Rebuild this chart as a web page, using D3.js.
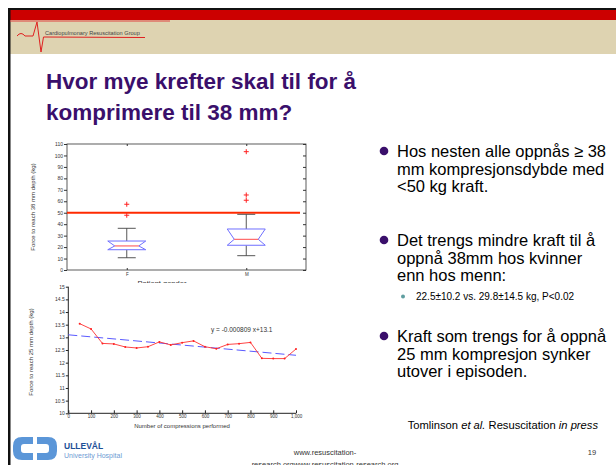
<!DOCTYPE html>
<html>
<head>
<meta charset="utf-8">
<script src="https://cdn.jsdelivr.net/npm/d3@7"></script>
<style>
  body { margin: 0; background: #fff; }
  svg { display: block; font-family: Arial, "Liberation Sans", sans-serif; }
</style>
</head>
<body>
<div id="slide"></div>
<script>
// box plot data (force to reach 38 mm, kg)
const genders = ["F", "M"];
const boxQ1 = [17.7, 21.6];
const boxMedian = [21, 26.8];
const boxQ3 = [25.3, 35.8];
const whiskerLow = [10.7, 12.5];
const whiskerHigh = [36.4, 48.6];
const outliers = [[57.4, 47.8], [103.3, 65.5, 60.9]];
const threshold = 50;
const boxTicks = [0, 10, 20, 30, 40, 50, 60, 70, 80, 90, 100, 110];

// line chart data (force to reach 25 mm, kg)
const compressions = [50, 100, 150, 200, 250, 300, 350, 400, 450, 500,
  550, 600, 650, 700, 750, 800, 850, 900, 950, 1000];
const force25 = [13.54, 13.33, 12.76, 12.74, 12.62, 12.58, 12.63, 12.82, 12.70, 12.79,
  12.86, 12.63, 12.55, 12.72, 12.75, 12.80, 12.17, 12.16, 12.16, 12.54];
const fitSlope = -0.000809;
const fitIntercept = 13.1;
const lineYTicks = [10, 10.5, 11, 11.5, 12, 12.5, 13, 13.5, 14, 14.5, 15];
const lineXTicks = [0, 100, 200, 300, 400, 500, 600, 700, 800, 900, 1000];

const W = 616, H = 465;
const purple = "#3a0f6b";

const svg = d3.select("#slide").append("svg")
  .attr("width", W).attr("height", H);

// ---- slide frame / header ----
svg.append("rect").attr("x", 8).attr("y", 8).attr("width", W - 8).attr("height", 3).attr("fill", "#111");
svg.append("rect").attr("x", 8).attr("y", 10).attr("width", W - 8).attr("height", 10).attr("fill", "#cc0000");
svg.append("rect").attr("x", 10).attr("y", 20).attr("width", W - 10).attr("height", 34).attr("fill", "#ded3b1");
svg.append("rect").attr("x", 8).attr("y", 8).attr("width", 2.5).attr("height", H - 8).attr("fill", "#111");
svg.append("line").attr("x1", 10).attr("x2", 170).attr("y1", 21).attr("y2", 21)
  .attr("stroke", "#e04040").attr("stroke-width", 1);
svg.append("path")
  .attr("d", "M17,36 Q21,31 25,36 L33,36 L37,22 L41,52 L43.5,37 L145,37.5")
  .attr("fill", "none").attr("stroke", "#e02020").attr("stroke-width", 1);
svg.append("text").attr("x", 45).attr("y", 34.5)
  .attr("font-size", 5.6).attr("fill", "#444")
  .text("Cardiopulmonary Resuscitation Group");

// title
const title = svg.append("text").attr("font-weight", "bold").attr("font-size", 22.5).attr("fill", purple);
title.append("tspan").attr("x", 46).attr("y", 89).text("Hvor mye krefter skal til for å");
title.append("tspan").attr("x", 46).attr("y", 120).text("komprimere til 38 mm?");

// ---- box plot ----
const bp = { left: 67, right: 306, top: 144, bottom: 270 };
const xBox = d3.scalePoint().domain(genders).range([bp.left, bp.right]).padding(0.5);
const yBox = d3.scaleLinear().domain([0, 110]).range([bp.bottom, bp.top]);

const gBox = svg.append("g");
gBox.append("rect")
  .attr("x", bp.left).attr("y", bp.top)
  .attr("width", bp.right - bp.left).attr("height", bp.bottom - bp.top)
  .attr("fill", "#fff").attr("stroke", "#333").attr("stroke-width", 0.8);

const axL = gBox.append("g").attr("transform", `translate(${bp.left},0)`)
  .call(d3.axisLeft(yBox).tickValues(boxTicks).tickSize(3).tickPadding(1));
axL.select(".domain").remove();
axL.selectAll("line").attr("stroke", "#333");
axL.selectAll("text").attr("font-size", 5).attr("fill", "#333");

const axR = gBox.append("g").attr("transform", `translate(${bp.right},0)`)
  .call(d3.axisLeft(yBox).tickValues(boxTicks).tickSize(3).tickFormat(""));
axR.select(".domain").remove();
axR.selectAll("line").attr("stroke", "#333");

const axB = gBox.append("g").attr("transform", `translate(0,${bp.bottom})`)
  .call(d3.axisTop(xBox).tickSize(2).tickFormat(""));
axB.select(".domain").remove();
axB.selectAll("line").attr("stroke", "#333");
gBox.append("g").attr("transform", `translate(0,${bp.bottom})`)
  .call(d3.axisBottom(xBox).tickSize(0).tickPadding(3))
  .call(g => g.select(".domain").remove())
  .selectAll("text").attr("font-size", 4.5).attr("fill", "#333");
const axT = gBox.append("g").attr("transform", `translate(0,${bp.top})`)
  .call(d3.axisBottom(xBox).tickSize(2).tickFormat(""));
axT.select(".domain").remove();
axT.selectAll("line").attr("stroke", "#333");

svg.append("text")
  .attr("transform", `translate(35,${(bp.top + bp.bottom) / 2}) rotate(-90)`)
  .attr("text-anchor", "middle").attr("font-size", 6).attr("fill", "#333")
  .text("Force to reach 38 mm depth (kg)");
svg.append("text").attr("x", 162).attr("y", 285.5)
  .attr("text-anchor", "middle").attr("font-size", 7.5).attr("fill", "#333")
  .text("Patient gender");

// threshold line
gBox.append("line")
  .attr("x1", bp.left).attr("x2", 300)
  .attr("y1", yBox(threshold)).attr("y2", yBox(threshold))
  .attr("stroke", "#ff2a00").attr("stroke-width", 1.8);

const boxW = 38, capW = 18, notchIn = 7;
genders.forEach((g, i) => {
  const cx = xBox(g);
  const x0 = cx - boxW / 2, x1 = cx + boxW / 2;
  // whiskers
  gBox.append("line").attr("x1", cx).attr("x2", cx)
    .attr("y1", yBox(whiskerHigh[i])).attr("y2", yBox(boxQ3[i]))
    .attr("stroke", "#444").attr("stroke-width", 0.9);
  gBox.append("line").attr("x1", cx).attr("x2", cx)
    .attr("y1", yBox(boxQ1[i])).attr("y2", yBox(whiskerLow[i]))
    .attr("stroke", "#444").attr("stroke-width", 0.9);
  [whiskerHigh[i], whiskerLow[i]].forEach(v => {
    gBox.append("line").attr("x1", cx - capW / 2).attr("x2", cx + capW / 2)
      .attr("y1", yBox(v)).attr("y2", yBox(v))
      .attr("stroke", "#444").attr("stroke-width", 0.9);
  });
  // notched box
  const pts = [
    [x0, yBox(boxQ3[i])], [x1, yBox(boxQ3[i])],
    [x1 - notchIn, yBox(boxMedian[i])], [x1, yBox(boxQ1[i])],
    [x0, yBox(boxQ1[i])], [x0 + notchIn, yBox(boxMedian[i])]
  ];
  gBox.append("polygon")
    .attr("points", pts.map(p => p.join(",")).join(" "))
    .attr("fill", "#fff").attr("stroke", "#6f6fff").attr("stroke-width", 1);
  gBox.append("line")
    .attr("x1", x0 + notchIn).attr("x2", x1 - notchIn)
    .attr("y1", yBox(boxMedian[i])).attr("y2", yBox(boxMedian[i]))
    .attr("stroke", "#ff4a4a").attr("stroke-width", 1);
  // outliers
  outliers[i].forEach(v => {
    const y = yBox(v);
    gBox.append("path")
      .attr("d", `M${cx - 2.5},${y}H${cx + 2.5}M${cx},${y - 2.5}V${y + 2.5}`)
      .attr("stroke", "#ff2020").attr("stroke-width", 1);
  });
});

// ---- line chart ----
svg.append("rect").attr("x", 20).attr("y", 283).attr("width", 305).attr("height", 145).attr("fill", "#fff");
const lc = { left: 68.3, right: 296, top: 286.7, bottom: 413.3 };
const xLine = d3.scaleLinear().domain([0, 1000]).range([lc.left, lc.right]);
const yLine = d3.scaleLinear().domain([10, 15]).range([lc.bottom, lc.top]);

const gLine = svg.append("g");
const lAx = gLine.append("g").attr("transform", `translate(${lc.left},0)`)
  .call(d3.axisLeft(yLine).tickValues(lineYTicks).tickSize(2.5).tickPadding(1).tickFormat(d3.format("")));
lAx.selectAll("line, path").attr("stroke", "#222");
lAx.selectAll("text").attr("font-size", 5).attr("fill", "#333");
lAx.select(".domain").attr("d", `M0,${lc.top}V${lc.bottom}`);

const bAx = gLine.append("g").attr("transform", `translate(0,${lc.bottom})`)
  .call(d3.axisBottom(xLine).tickValues(lineXTicks).tickSize(0).tickPadding(1.5));
bAx.selectAll("path").attr("stroke", "#222");
bAx.selectAll("text").attr("font-size", 4.5).attr("fill", "#333");
bAx.select(".domain").attr("d", `M${lc.left},0H${lc.right}`);
bAx.selectAll(".tick").append("line").attr("y1", 0).attr("y2", -3).attr("stroke", "#222");

svg.append("text")
  .attr("transform", `translate(33,${(lc.top + lc.bottom) / 2 + 2}) rotate(-90)`)
  .attr("text-anchor", "middle").attr("font-size", 6).attr("fill", "#333")
  .text("Force to reach 25 mm depth (kg)");
svg.append("text").attr("x", 182).attr("y", 427.5)
  .attr("text-anchor", "middle").attr("font-size", 6).attr("fill", "#333")
  .text("Number of compressions performed");

// regression fit
gLine.append("line")
  .attr("x1", xLine(0)).attr("x2", xLine(1000))
  .attr("y1", yLine(fitIntercept)).attr("y2", yLine(fitIntercept + fitSlope * 1000))
  .attr("stroke", "#5a5aff").attr("stroke-width", 1).attr("stroke-dasharray", "9,4");

const line = d3.line().x((d, i) => xLine(compressions[i])).y(d => yLine(d));
gLine.append("path").datum(force25)
  .attr("d", line).attr("fill", "none")
  .attr("stroke", "#ff3030").attr("stroke-width", 0.9);
gLine.selectAll("circle.pt").data(force25).enter().append("circle")
  .attr("cx", (d, i) => xLine(compressions[i])).attr("cy", d => yLine(d))
  .attr("r", 1).attr("fill", "#ff2020");

gLine.append("text").attr("x", 211).attr("y", 332)
  .attr("font-size", 6.5).attr("fill", "#333")
  .text("y = -0.000809 x+13.1");

// ---- bullet text ----
const bullets = [
  { y: 157, lines: ["Hos nesten alle oppnås ≥ 38", "mm kompresjonsdybde med", "<50 kg kraft."] },
  { y: 246, lines: ["Det trengs mindre kraft til å", "oppnå 38mm hos kvinner", "enn hos menn:"] },
  { y: 342, lines: ["Kraft som trengs for å oppnå", "25 mm kompresjon synker", "utover i episoden."] }
];
bullets.forEach(b => {
  svg.append("circle").attr("cx", 384).attr("cy", b.y - 6).attr("r", 4.3).attr("fill", purple);
  const t = svg.append("text").attr("font-size", 16.5).attr("fill", "#000");
  b.lines.forEach((l, k) => t.append("tspan").attr("x", 397).attr("y", b.y + k * 17.5).text(l));
});
svg.append("circle").attr("cx", 403).attr("cy", 296.5).attr("r", 2).attr("fill", "#5f9ea0");
svg.append("text").attr("x", 416).attr("y", 300).attr("font-size", 10).attr("fill", "#000")
  .text("22.5±10.2 vs. 29.8±14.5 kg, P<0.02");

// citation
const cite = svg.append("text").attr("x", 598).attr("y", 429).attr("text-anchor", "end")
  .attr("font-size", 11.2).attr("fill", "#000");
cite.append("tspan").text("Tomlinson ");
cite.append("tspan").attr("font-style", "italic").text("et al.");
cite.append("tspan").text(" Resuscitation ");
cite.append("tspan").attr("font-style", "italic").text("in press");

// ---- footer ----
svg.append("path")
  .attr("d", "M33,437 H22 Q13,437 13,446 V451 Q13,460 22,460 H33 V453 H24 Q21,453 21,450 V447 Q21,444 24,444 H33 Z")
  .attr("fill", "#5b96d8");
svg.append("path")
  .attr("d", "M37,437 H48 Q57,437 57,446 V451 Q57,460 48,460 H37 V453 H46 Q49,453 49,450 V447 Q49,444 46,444 H37 Z")
  .attr("fill", "#5b96d8");
svg.append("text").attr("x", 64).attr("y", 449).attr("font-size", 8.5).attr("font-weight", "bold")
  .attr("fill", "#1d4f96").text("ULLEVÅL");
svg.append("text").attr("x", 64).attr("y", 458).attr("font-size", 7).attr("fill", "#6e9bd3")
  .text("University Hospital");
svg.append("text").attr("x", 325).attr("y", 455).attr("text-anchor", "middle").attr("font-size", 7.5)
  .attr("fill", "#333").text("www.resuscitation-");
svg.append("text").attr("x", 325).attr("y", 467).attr("text-anchor", "middle").attr("font-size", 7.5)
  .attr("fill", "#333").text("research.orgwww.resuscitation-research.org");
svg.append("text").attr("x", 592).attr("y", 455).attr("text-anchor", "middle").attr("font-size", 7.5)
  .attr("fill", "#333").text("19");
</script>
</body>
</html>
